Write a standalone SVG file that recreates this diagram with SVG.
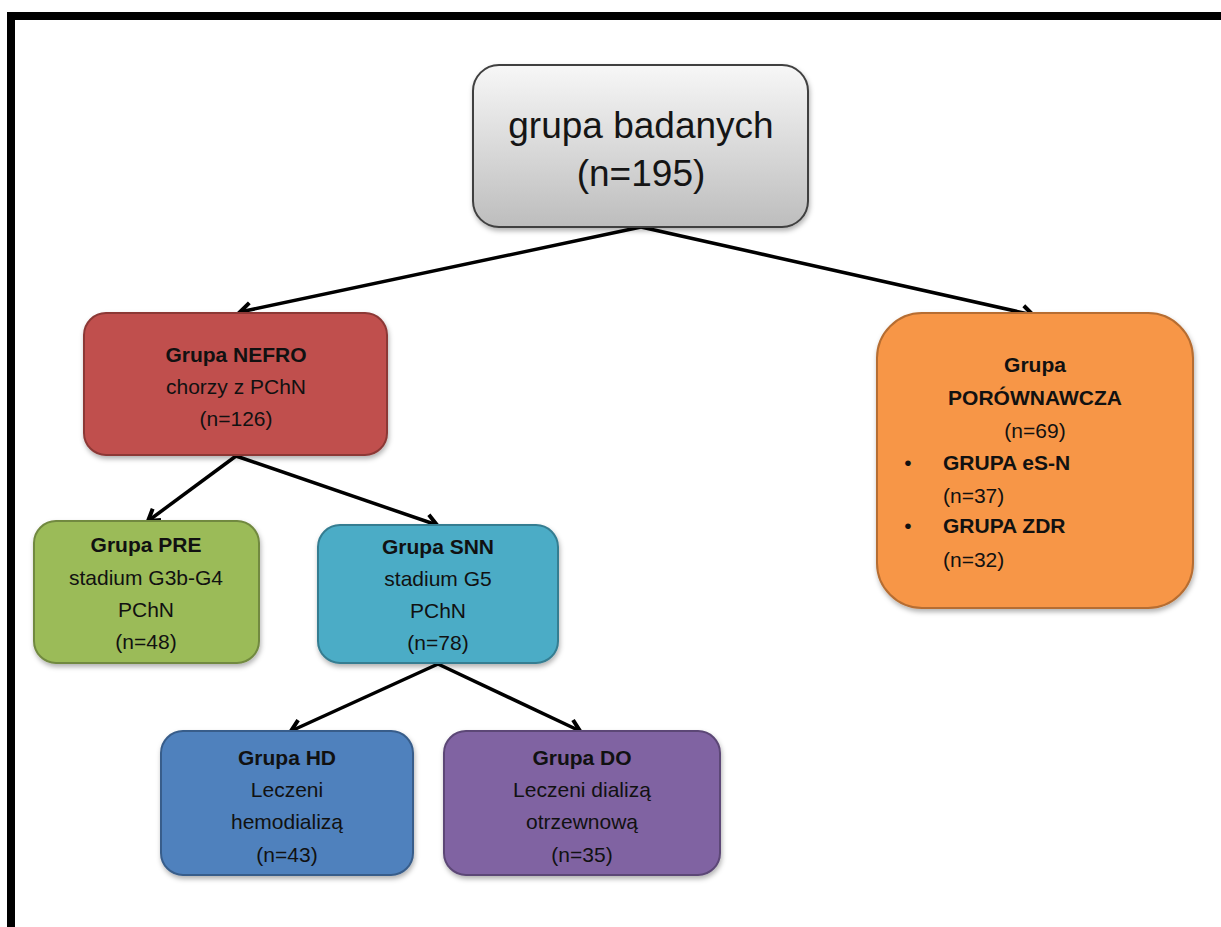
<svg xmlns="http://www.w3.org/2000/svg" width="1221" height="927" viewBox="0 0 1221 927">
<style>
  text { font-family: "Liberation Sans", Arial, sans-serif; fill: #111; font-size: 21px; }
  .t { text-anchor: middle; }
  .b { font-weight: bold; }
  .big { font-size: 37px; text-anchor: middle; fill: #151515; }
  .box { stroke-width: 2; filter: url(#sh); }
  .con { stroke: #000; stroke-width: 3.5; fill: none; marker-end: url(#ah); }
</style>
<defs>
  <linearGradient id="gray" x1="0" y1="0" x2="0" y2="1">
    <stop offset="0" stop-color="#f7f7f7"/>
    <stop offset="1" stop-color="#bdbdbd"/>
  </linearGradient>
  <filter id="sh" x="-10%" y="-10%" width="125%" height="130%">
    <feDropShadow dx="1" dy="3" stdDeviation="2.5" flood-color="#000" flood-opacity="0.3"/>
  </filter>
  <marker id="ah" markerWidth="20" markerHeight="20" refX="15" refY="10" orient="auto" markerUnits="userSpaceOnUse">
    <path d="M4,3 L15,10 L4,17" fill="none" stroke="#000" stroke-width="4" stroke-linejoin="miter"/>
  </marker>
</defs>
<rect width="1221" height="927" fill="#fff"/>
<!-- frame -->
<rect x="7" y="12" width="1214" height="8" fill="#000"/>
<rect x="7" y="12" width="8" height="915" fill="#000"/>

<g id="connectors">
  <line class="con" x1="641" y1="227" x2="240" y2="312"/>
  <line class="con" x1="641" y1="227" x2="1033" y2="315"/>
  <line class="con" x1="236" y1="456" x2="148" y2="521"/>
  <line class="con" x1="236" y1="456" x2="437" y2="525"/>
  <line class="con" x1="438" y1="664" x2="291" y2="731"/>
  <line class="con" x1="438" y1="664" x2="580" y2="731"/>
</g>

<g id="node-root">
  <rect class="box" x="473" y="65" width="335" height="162" rx="26" fill="url(#gray)" stroke="#404040"/>
  <text class="big" x="641" y="138">grupa badanych</text>
  <text class="big" x="641" y="186">(n=195)</text>
</g>

<g id="node-nefro">
  <rect class="box" x="84" y="313" width="303" height="142" rx="22" fill="#c0504d" stroke="#8c3836"/>
  <text class="t b" x="236" y="362">Grupa  NEFRO</text>
  <text class="t" x="236" y="394">chorzy z PChN</text>
  <text class="t" x="236" y="426">(n=126)</text>
</g>

<g id="node-porownawcza">
  <rect class="box" x="877" y="313" width="316" height="295" rx="45" fill="#f79646" stroke="#b66d31"/>
  <text class="t b" x="1035" y="372">Grupa</text>
  <text class="t b" x="1035" y="405">PORÓWNAWCZA</text>
  <text class="t" x="1035" y="438">(n=69)</text>
  <text class="t" x="908" y="470">•</text>
  <text x="943" y="470" font-weight="bold">GRUPA eS-N</text>
  <text x="943" y="503">(n=37)</text>
  <text class="t" x="908" y="533">•</text>
  <text x="943" y="533" font-weight="bold">GRUPA ZDR</text>
  <text x="943" y="567">(n=32)</text>
</g>

<g id="node-pre">
  <rect class="box" x="34" y="521" width="225" height="142" rx="22" fill="#9bbb59" stroke="#71893f"/>
  <text class="t b" x="146" y="552">Grupa  PRE</text>
  <text class="t" x="146" y="585">stadium G3b-G4</text>
  <text class="t" x="146" y="617">PChN</text>
  <text class="t" x="146" y="649">(n=48)</text>
</g>

<g id="node-snn">
  <rect class="box" x="318" y="525" width="240" height="138" rx="22" fill="#4bacc6" stroke="#357d91"/>
  <text class="t b" x="438" y="554">Grupa  SNN</text>
  <text class="t" x="438" y="586">stadium G5</text>
  <text class="t" x="438" y="618">PChN</text>
  <text class="t" x="438" y="650">(n=78)</text>
</g>

<g id="node-hd">
  <rect class="box" x="161" y="731" width="252" height="144" rx="22" fill="#4f81bd" stroke="#385d8a"/>
  <text class="t b" x="287" y="765">Grupa  HD</text>
  <text class="t" x="287" y="797">Leczeni</text>
  <text class="t" x="287" y="829">hemodializą</text>
  <text class="t" x="287" y="862">(n=43)</text>
</g>

<g id="node-do">
  <rect class="box" x="444" y="731" width="276" height="144" rx="22" fill="#8064a2" stroke="#5c4776"/>
  <text class="t b" x="582" y="765">Grupa  DO</text>
  <text class="t" x="582" y="797">Leczeni dializą</text>
  <text class="t" x="582" y="829">otrzewnową</text>
  <text class="t" x="582" y="862">(n=35)</text>
</g>
</svg>
